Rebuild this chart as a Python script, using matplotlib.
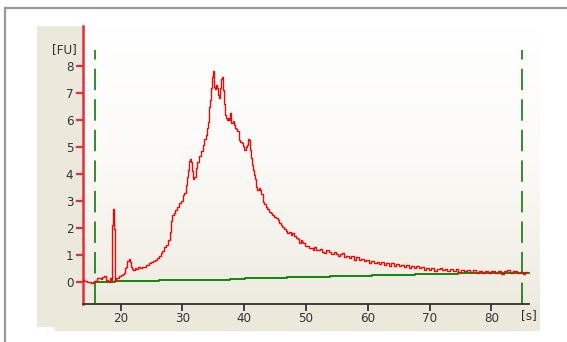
import numpy as np
import matplotlib
matplotlib.use("Agg")
import matplotlib.pyplot as plt
from matplotlib import font_manager
from matplotlib.patches import Rectangle
from matplotlib.lines import Line2D
from matplotlib.colors import LinearSegmentedColormap

# ---------------- data ----------------
time_s = [13.9, 14.3, 14.7, 15.0, 15.3, 15.6, 15.9, 16.3, 16.6, 16.9, 17.2, 17.5, 17.8,
          18.1, 18.35, 18.55, 18.6, 18.72, 18.76, 18.88, 18.92, 19.04, 19.08,
          19.3, 19.6, 19.9, 20.2, 20.4, 20.6, 20.8, 21.0, 21.2, 21.35, 21.5, 21.7, 21.9,
          22.1, 22.4, 22.7, 23.0, 23.3, 23.6, 23.9, 24.2, 24.5, 24.8, 25.1, 25.4, 25.7,
          26.0, 26.3, 26.6, 26.9, 27.2, 27.5, 27.8, 28.0, 28.2, 28.4, 28.7, 29.0, 29.3,
          29.6, 29.9, 30.2, 30.4, 30.6, 30.8, 30.95, 31.1, 31.25, 31.4, 31.55, 31.7,
          31.85, 32.0, 32.3, 32.55, 32.8, 33.1, 33.4, 33.7, 33.9, 34.1, 34.25, 34.45,
          34.6, 34.75, 34.9, 35.0, 35.1, 35.2, 35.4, 35.55, 35.7, 35.85, 35.95, 36.1,
          36.3, 36.45, 36.6, 36.75, 36.85, 37.0, 37.15, 37.3, 37.5, 37.65, 37.8, 37.95,
          38.1, 38.25, 38.45, 38.65, 38.8, 39.0, 39.2, 39.45, 39.65, 39.85, 40.1, 40.3,
          40.5, 40.75, 40.9, 41.05, 41.2, 41.35, 41.5, 41.7, 41.85, 42.0, 42.2, 42.4,
          42.6, 42.8, 43.1, 43.35, 43.6, 43.9, 44.15, 44.4, 44.7, 45.0, 45.25, 45.5,
          45.8, 46.05, 46.3, 46.6, 46.85, 47.1, 47.4, 47.65, 47.9, 48.2, 48.5, 48.75,
          49.0, 49.2, 49.45, 49.7, 50.0, 50.35, 50.6, 50.9, 51.2, 51.5, 51.8, 52.1,
          52.5, 52.8, 53.1, 53.5, 53.9, 54.3, 54.6, 54.95, 55.3, 55.6, 56.0, 56.3,
          56.7, 57.1, 57.5, 57.9, 58.3, 58.7, 59.1, 59.5, 59.9, 60.35, 60.8, 61.2,
          61.6, 61.95, 62.4, 62.8, 63.2, 63.6, 64.0, 64.4, 64.8, 65.2, 65.6, 66.0,
          66.4, 66.8, 67.2, 67.6, 68.0, 68.4, 68.8, 69.2, 69.6, 70.05, 70.5, 71.0,
          71.4, 71.8, 72.2, 72.6, 73.0, 73.5, 74.0, 74.4, 74.8, 75.3, 75.8, 76.3,
          76.8, 77.3, 77.8, 78.3, 78.7, 79.2, 79.7, 80.2, 80.8, 81.3, 81.8, 82.3,
          82.8, 83.3, 83.8, 84.3, 84.9, 85.3, 85.7]
fu = [0.05, 0.03, 0.00, -0.03, -0.04, 0.00, 0.03, 0.12, 0.15, 0.10, 0.18, 0.20, 0.08,
      0.00, 0.12, 0.05, 2.10, 2.10, 2.70, 2.70, 1.96, 1.96, 0.02,
      0.13, 0.15, 0.21, 0.24, 0.29, 0.33, 0.50, 0.55, 0.78, 0.84, 0.72, 0.53, 0.47,
      0.45, 0.50, 0.46, 0.53, 0.49, 0.55, 0.56, 0.62, 0.61, 0.70, 0.72, 0.78, 0.80,
      0.89, 0.94, 1.07, 1.13, 1.27, 1.36, 1.55, 1.86, 2.25, 2.48, 2.55, 2.67, 2.78,
      2.92, 2.98, 3.22, 3.30, 3.60, 3.90, 4.15, 4.50, 4.55, 4.45, 4.10, 3.85,
      3.80, 3.90, 4.21, 4.45, 4.67, 4.85, 5.08, 5.30, 5.45, 5.70, 5.95, 6.50,
      6.75, 7.20, 7.62, 7.84, 7.50, 7.25, 7.15, 7.30, 7.20, 6.95, 6.82, 7.19,
      7.52, 7.60, 7.13, 6.60, 6.38, 6.20, 6.10, 6.01, 6.07, 6.00, 6.26, 5.89,
      5.90, 5.98, 5.82, 5.72, 5.66, 5.58, 5.27, 5.20, 5.17, 5.04, 4.90, 5.02,
      5.08, 5.29, 5.25, 4.90, 4.60, 4.34, 4.15, 3.97, 3.80, 3.50, 3.42, 3.47,
      3.41, 3.25, 2.97, 2.90, 2.79, 2.70, 2.60, 2.55, 2.48, 2.42, 2.36, 2.28,
      2.17, 2.12, 2.04, 1.95, 1.88, 1.80, 1.86, 1.72, 1.80, 1.68, 1.64, 1.58,
      1.43, 1.54, 1.47, 1.42, 1.34, 1.32, 1.25, 1.24, 1.16, 1.27, 1.18, 1.17,
      1.21, 1.10, 1.06, 1.16, 1.12, 1.01, 1.11, 1.04, 0.96, 1.04, 1.05, 0.92,
      0.97, 0.88, 0.95, 0.82, 0.90, 0.80, 0.86, 0.75, 0.81, 0.70, 0.78, 0.68,
      0.74, 0.64, 0.72, 0.63, 0.70, 0.60, 0.69, 0.58, 0.67, 0.58, 0.63, 0.54,
      0.62, 0.52, 0.60, 0.50, 0.58, 0.49, 0.55, 0.45, 0.52, 0.42, 0.50, 0.41,
      0.47, 0.51, 0.43, 0.48, 0.41, 0.46, 0.38, 0.46, 0.36, 0.44, 0.38, 0.43,
      0.35, 0.42, 0.33, 0.40, 0.31, 0.39, 0.33, 0.41, 0.34, 0.38, 0.29, 0.39,
      0.42, 0.33, 0.38, 0.31, 0.37, 0.30, 0.35]

base_t = [15.9, 19.1, 26.2, 31.5, 37.7, 40.1, 46.9, 53.9, 60.7, 67.6, 74.6, 81.0, 86.0]
base_v = [-0.02, 0.04, 0.06, 0.08, 0.10, 0.13, 0.16, 0.20, 0.24, 0.28, 0.31, 0.33, 0.33]

marker_lines = [15.85, 84.9]
x_ticks = [20, 30, 40, 50, 60, 70, 80]
y_ticks = [0, 1, 2, 3, 4, 5, 6, 7, 8]

# ---------------- figure ----------------
W, H = 567, 342
fig = plt.figure(figsize=(W / 100, H / 100), dpi=100)
fig.patch.set_facecolor("white")

_names = {f.name for f in font_manager.fontManager.ttflist}
if "Liberation Sans Narrow" in _names:
    FONT = ["Liberation Sans Narrow", "DejaVu Sans"]
    STRETCH = "normal"
    FS = 10.5
else:
    FONT = ["DejaVu Sans"]
    STRETCH = "condensed"
    FS = 9.5
TXT = "#333333"
fkw = dict(fontfamily=FONT, fontstretch=STRETCH, fontsize=FS, color=TXT)


def fr(x, y):
    return x / W, 1 - y / H


def rect(x0, y0, x1, y1, **kw):
    fig.patches.append(Rectangle((x0 / W, 1 - y1 / H), (x1 - x0) / W, (y1 - y0) / H,
                                 transform=fig.transFigure, **kw))


# outer frame lines
fig.add_artist(Line2D([5 / W, 1], [1 - 8 / H, 1 - 8 / H], transform=fig.transFigure,
                      color="#9a9a9a", lw=1.6, zorder=-5))
fig.add_artist(Line2D([5 / W, 5 / W], [0, 1 - 8 / H], transform=fig.transFigure,
                      color="#9a9a9a", lw=1.6, zorder=-5))

# beige panel
beige = "#ECE9DC"
rect(37, 26, 540, 327, facecolor=beige, edgecolor="none", zorder=-5)
rect(54, 326, 540, 331, facecolor=beige, edgecolor="none", zorder=-5)

ax_l, ax_r, ax_t, ax_b = 83, 540, 26, 304
ax = fig.add_axes([ax_l / W, 1 - ax_b / H, (ax_r - ax_l) / W, (ax_b - ax_t) / H])
ax.set_zorder(2)
xmin, xmax = 13.9, 87.85
ymin, ymax = -0.83, 9.5

# gradient background
cmap = LinearSegmentedColormap.from_list("g", ["#FFFFFF", "#FBFAF7", "#EEEBE0"])
grad = np.linspace(0, 1, 256).reshape(-1, 1)
ax.imshow(grad, extent=[0, 1, 0, 1], transform=ax.transAxes, cmap=cmap,
          aspect="auto", origin="upper", zorder=0, interpolation="bilinear")
ax.set_xlim(xmin, xmax)
ax.set_ylim(ymin, ymax)
ax.set_facecolor("none")

# baseline and trace
ax.step(base_t, base_v, where="post", color="#008000", lw=1.3, zorder=2)
ax.plot(time_s, fu, color="#FF0000", lw=0.95, zorder=3, drawstyle="steps-mid")

# dashed markers
for m in marker_lines:
    ax.plot([m, m], [ymin, 8.62], color="#006B00", lw=1.1,
            dashes=(14, 6), zorder=4)

# spines
for s in ["top", "right"]:
    ax.spines[s].set_visible(False)
ax.spines["left"].set_color("#E0303A")
ax.spines["left"].set_linewidth(1.8)
ax.spines["bottom"].set_color("#333333")
ax.spines["bottom"].set_linewidth(1.3)
ax.spines["bottom"].set_bounds(xmin, 86.0)

ax.set_xticks(x_ticks)
ax.set_yticks(y_ticks)
ax.set_xticklabels([str(v) for v in x_ticks], **fkw)
ax.set_yticklabels([str(v) for v in y_ticks], **fkw)
ax.tick_params(axis="y", colors="#E0303A", length=5, width=1.6, pad=2, labelcolor=TXT)
ax.tick_params(axis="x", colors="#333333", length=5, width=1.3, pad=1, labelcolor=TXT)

fig.text(*fr(77, 50), "[FU]", ha="right", va="center", **fkw)
fig.text(*fr(521, 316), "[s]", ha="left", va="center", **fkw)

fig.savefig("out.png", dpi=100)
